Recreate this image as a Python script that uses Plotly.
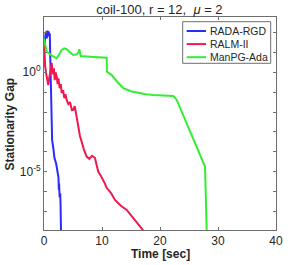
import plotly.graph_objects as go

# RADA-RGD
t_rada = [0, 0.05, 0.25, 0.4, 0.5, 0.6, 0.7, 0.8, 0.9, 1.0, 1.05, 1.15, 1.25, 1.4, 1.6, 1.8, 2.1, 2.4, 2.5, 2.55, 2.6, 2.7, 2.8, 2.85, 2.93]
log_rada = [0.3, 1.2, 1.9, 2.05, 1.7, 2.1, 1.8, 2.05, 1.9, 1.95, 1.2, -0.8, -2.5, -3.4, -3.8, -4.3, -4.6, -5.0, -5.3, -5.9, -5.6, -6.3, -6.1, -6.6, -7.95]

# RALM-II
t_ralm = [0, 0.2, 0.45, 0.74, 0.9, 1.1, 1.33, 1.5, 1.7, 1.85, 2.0, 2.19, 2.35, 2.5, 2.7, 2.9, 3.05, 3.3, 3.5, 3.7, 3.91, 4.2, 4.5, 4.8, 5.05, 5.3, 5.64, 5.9, 6.2, 6.5, 6.9, 7.36, 7.8, 8.3, 8.79, 9.1, 9.36, 9.8, 10.2, 10.5, 10.8, 11.5, 12.24, 13.2, 14.26, 15.5, 16.84, 17.1]
log_ralm = [1.5, 0.3, -0.2, -0.64, -0.3, 0.1, 0.47, -0.1, 0.2, -0.4, 0.0, -0.22, -0.6, -0.3, -0.8, -0.6, -1.04, -0.9, -1.3, -1.1, -1.39, -1.6, -1.5, -1.9, -1.89, -1.7, -2.4, -2.7, -3.2, -3.55, -3.9, -4.24, -4.35, -4.2, -4.31, -4.7, -5.0, -5.2, -5.41, -5.6, -5.81, -6.05, -6.42, -6.7, -6.92, -7.35, -7.83, -7.95]

# ManPG-Ada
t_manpg = [0, 0.47, 1.3, 2.19, 2.6, 3.05, 3.5, 3.91, 4.5, 5.05, 5.64, 5.95, 6.09, 6.33, 8.5, 10.81, 10.85, 11.67, 12.7, 13.67, 15.0, 15.98, 17.5, 18.84, 20.5, 22.29, 22.88, 24.31, 25.8, 27.19, 27.76, 28.05]
log_manpg = [1.7, 1.03, 0.85, 0.7, 0.9, 1.12, 1.2, 1.16, 1.0, 0.87, 0.9, 1.0, 1.16, 0.82, 0.77, 0.73, 0.03, -0.14, -0.5, -0.8, -0.95, -1.02, -1.1, -1.14, -1.17, -1.19, -1.39, -2.4, -3.4, -4.41, -4.74, -7.95]

series_names = ["RADA-RGD", "RALM-II", "ManPG-Ada"]
series_colors = ["#2b2bff", "#f0184c", "#33ee33"]
series_t = [t_rada, t_ralm, t_manpg]
series_log = [log_rada, log_ralm, log_manpg]

x_ticks = [0, 10, 20, 30, 40]
y_tick_exps = list(range(-7, 3))
y_labels = {0: "10<sup>0</sup>", -5: "10<sup>-5</sup>"}

FONT = "Liberation Sans, Arial"
TXT = "#262626"
AX = "#6e6e6e"

fig = go.Figure()
for name, t, lg, col in zip(series_names, series_t, series_log, series_colors):
    fig.add_trace(go.Scatter(x=t, y=[10 ** v for v in lg], mode="lines", name=name,
                             line=dict(color=col, width=2), showlegend=False))

axis_common = dict(showline=True, linecolor=AX, linewidth=1, mirror="ticks",
                   ticks="inside", ticklen=3, tickcolor=AX, showgrid=False,
                   zeroline=False, automargin=False,
                   tickfont=dict(family=FONT, size=12, color=TXT))

fig.update_layout(
    width=303, height=265,
    margin=dict(l=44, r=27, t=17, b=35),
    paper_bgcolor="white", plot_bgcolor="white",
    title=dict(text="coil-100, r = 12,  <i>μ</i> = 2", x=0.526, xanchor="center",
               xref="container", y=0.964, yanchor="middle", yref="container",
               font=dict(family=FONT, size=13, color=TXT)),
    xaxis=dict(range=[0, 40], tickvals=x_ticks, ticktext=[str(v) for v in x_ticks], **axis_common),
    yaxis=dict(type="log", range=[-7.93, 2.78],
               tickvals=[10 ** e for e in y_tick_exps],
               ticktext=[y_labels.get(e, "") for e in y_tick_exps], **axis_common),
    showlegend=False,
)

# axis titles
fig.add_annotation(text="<b>Time [sec]</b>", xref="paper", yref="paper", x=0.502, y=(230 - 254) / 213,
                   xanchor="center", yanchor="middle", showarrow=False,
                   font=dict(family=FONT, size=12, color=TXT))
fig.add_annotation(text="<b>Stationarity Gap</b>", xref="paper", yref="paper", x=(9.5 - 44) / 232,
                   y=(230 - 124) / 213, xanchor="center", yanchor="middle", textangle=-90,
                   showarrow=False, font=dict(family=FONT, size=12, color=TXT))

# legend box
def px_x(p):
    return (p - 44) / 232

def px_y(p):
    return (230 - p) / 213

fig.add_shape(type="rect", xref="paper", yref="paper", x0=px_x(182.7), x1=px_x(270.7),
              y0=px_y(63.3), y1=px_y(21.7), line=dict(color=AX, width=1), fillcolor="white")
for i, (name, col) in enumerate(zip(series_names, series_colors)):
    yy = px_y(31 + 13.1 * i)
    fig.add_shape(type="line", xref="paper", yref="paper", x0=px_x(186.7), x1=px_x(206),
                  y0=yy, y1=yy, line=dict(color=col, width=2))
    fig.add_annotation(text=name, xref="paper", yref="paper", x=px_x(208), y=yy,
                       xanchor="left", yanchor="middle", showarrow=False,
                       font=dict(family=FONT, size=10.5, color=TXT))

fig.write_html("out.html", config={"displayModeBar": False},
               post_script="document.body.style.margin='0';")
